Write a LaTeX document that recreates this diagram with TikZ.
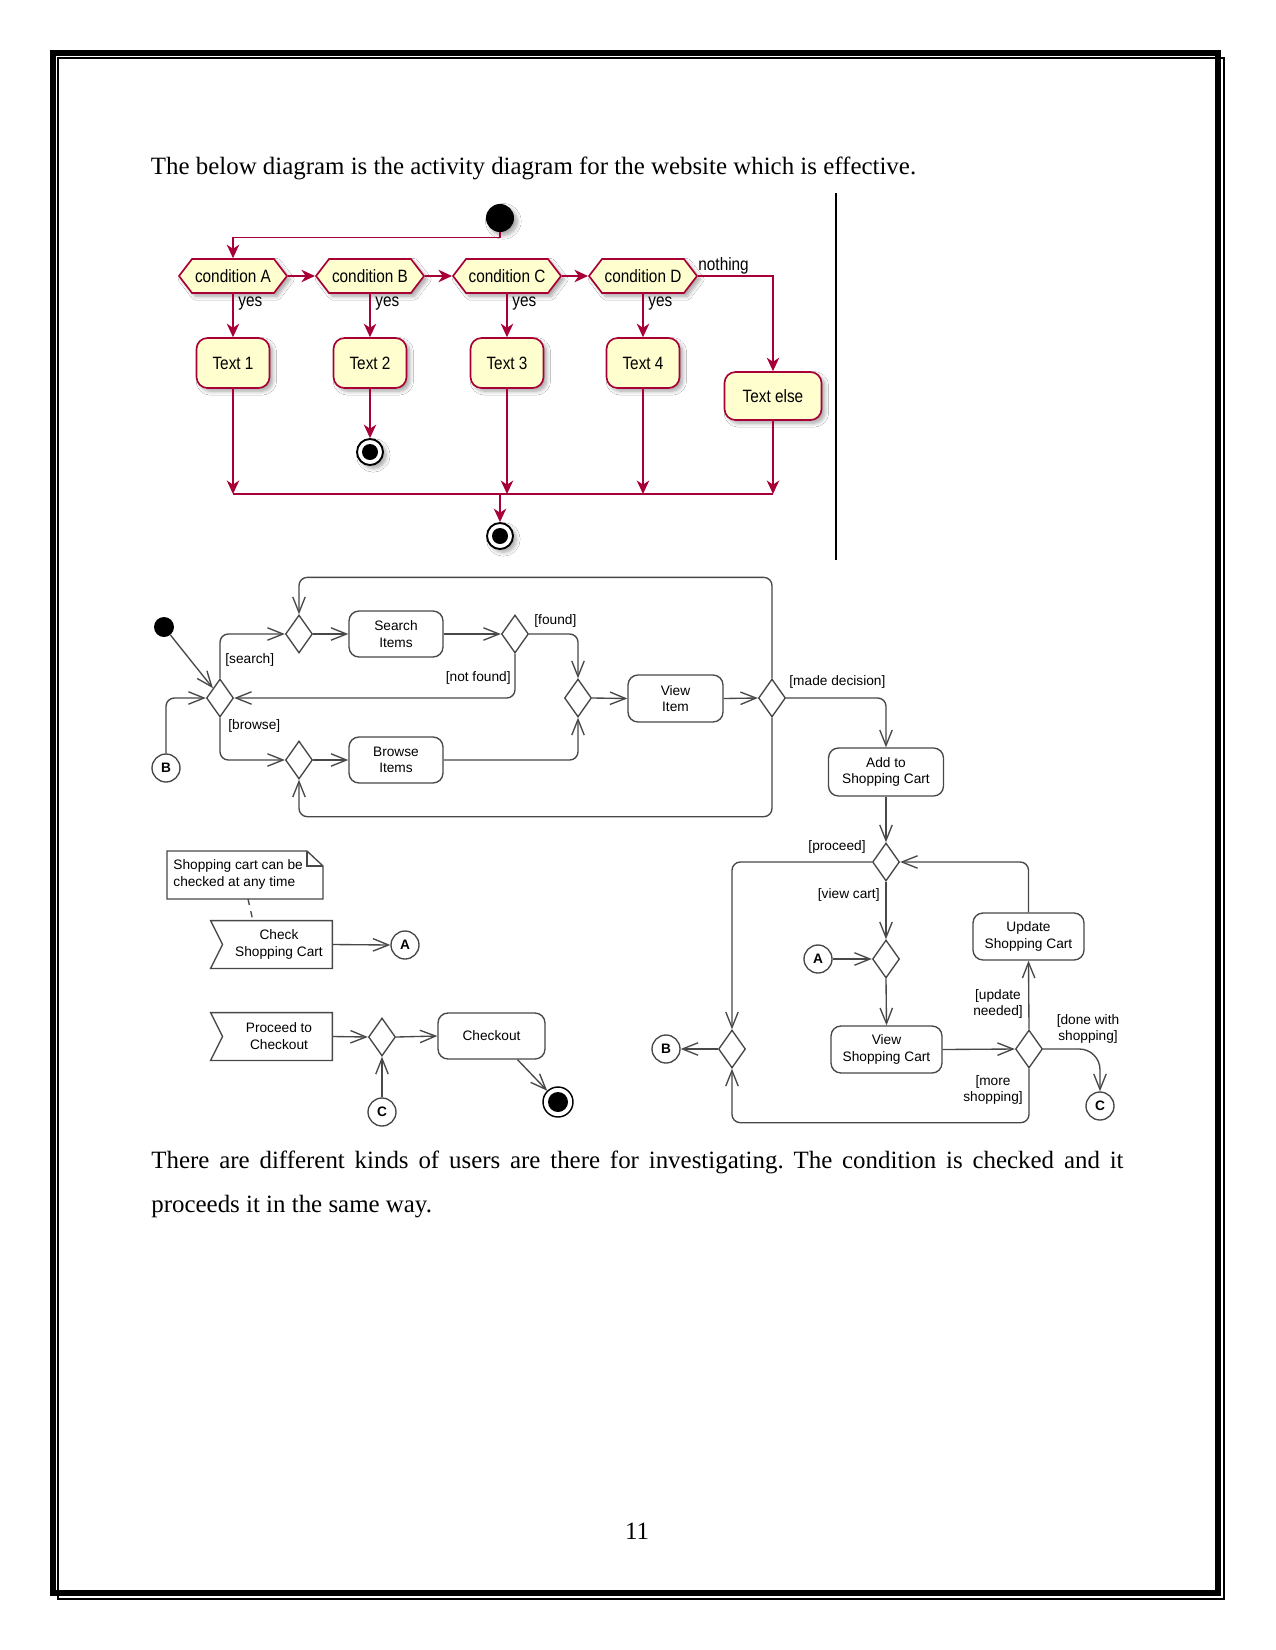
\documentclass[tikz,border=0pt]{standalone}
\usepackage{fontspec}
\setmainfont{Liberation Serif}
\setsansfont{Liberation Sans}
\newfontfamily\pufont[FakeStretch=0.86]{Liberation Sans}
\usetikzlibrary{arrows.meta,shapes.geometric,shapes.symbols,calc,shadows.blur}
\newdimen\upx \upx=0.48bp
\definecolor{pured}{HTML}{A80036}
\definecolor{puyel}{HTML}{FEFECE}
\definecolor{lc}{HTML}{484848}
\frenchspacing
\begin{document}
\begin{tikzpicture}[x=0.48bp, y=-0.48bp,
  pushadow/.style={blur shadow={shadow xshift=1.6pt, shadow yshift=-1.6pt, shadow opacity=35, shadow blur steps=6}},
  pufnt/.style={font=\pufont\fontsize{8.6}{10}\selectfont},
  pa/.style={draw=pured, line width=0.8pt, -{Stealth[length=6.5pt,width=6pt,inset=2pt]}},
  pubox/.style={rectangle, rounded corners=11*\upx, draw=pured, fill=puyel, line width=0.8pt, minimum width=73*\upx, minimum height=50*\upx, inner sep=0, pufnt, pushadow},
  puhex/.style={signal, signal to=east and west, signal pointer angle=105, draw=pured, fill=puyel, line width=0.8pt, minimum width=108*\upx, minimum height=34*\upx, inner sep=0, pufnt, pushadow},
  puyes/.style={anchor=west, inner sep=0, pufnt},
  puend/.style={circle, draw=black, line width=0.9pt, fill=white, minimum size=26*\upx, inner sep=0, pushadow},
  body/.style={inner sep=0, font=\fontsize{12}{14}\selectfont},
  lbf/.style={font=\sffamily\fontsize{6.6}{7.9}\selectfont},
  ar/.style={draw=lc, line width=0.65pt, -{Straight Barb[length=7.5pt,width=6pt]}, rounded corners=4pt},
  dec/.style={diamond, draw=lc, line width=0.65pt, fill=white, minimum width=27*\upx, minimum height=38*\upx, inner sep=0},
  act/.style={rectangle, rounded corners=10*\upx, draw=lc, line width=0.65pt, align=center, inner sep=0, lbf},
  conn/.style={circle, draw=lc, line width=0.65pt, minimum size=28*\upx, inner sep=0, font=\sffamily\bfseries\fontsize{6.6}{7.9}\selectfont},
  lab/.style={inner sep=0, lbf},
  evt/.style={rectangle, minimum width=121*\upx, minimum height=47*\upx, inner sep=0}
]
\useasboundingbox (0,0) rectangle (1275,1650);
\fill[white] (0,0) rectangle (1275,1650);
% page border
\draw[line width=6*\upx] (53,53) rectangle (1218,1593);
\draw[line width=1.8*\upx] (58,58) rectangle (1224,1599);

% body text
\node[body, anchor=base west] (t1) at (150.5,174) {The below diagram is the activity diagram for the website which is effective.};
\node[body, anchor=base west] (t2) at (151,1168) {\makebox[466.6bp][s]{There are different kinds of users are there for investigating. The condition is checked and it}};
\node[body, anchor=base west] (t3) at (151,1212) {proceeds it in the same way.};
\node[body, anchor=base] (pg) at (637,1539) {11};

% vertical rule
\draw[line width=2*\upx] (836,193) -- (836,560);

% ---------- top (PlantUML) diagram ----------
\node[circle, fill=black, minimum size=28*\upx, inner sep=0, pushadow] (st1) at (500,218) {};
\node[puhex] (cA) at (233,276) {condition A};
\node[puhex] (cB) at (370,276) {condition B};
\node[puhex] (cC) at (507,276) {condition C};
\node[puhex] (cD) at (643,276) {condition D};
\node[pubox] (x1) at (233,363) {Text 1};
\node[pubox] (x2) at (370,363) {Text 2};
\node[pubox] (x3) at (507,363) {Text 3};
\node[pubox] (x4) at (643,363) {Text 4};
\node[pubox, minimum width=97*\upx, minimum height=48*\upx] (xe) at (773,396) {Text else};
\node[puend] (e1) at (370,452) {};
\fill (e1.center) circle[radius=8*\upx];
\node[puend] (e2) at (500,536) {};
\fill (e2.center) circle[radius=8*\upx];

\draw[pa] (st1.south) -- ++(0,5) -| (cA.north);
\draw[pa] (cA.east) -- (cB.west);
\draw[pa] (cB.east) -- (cC.west);
\draw[pa] (cC.east) -- (cD.west);
\draw[pa] (cA.south) -- (x1.north);
\draw[pa] (cB.south) -- (x2.north);
\draw[pa] (cC.south) -- (x3.north);
\draw[pa] (cD.south) -- (x4.north);
\draw[pa] (cD.east) -| (xe.north);
\node[puyes] (yA) at ($(cA.south)+(5,10)$) {yes};
\node[puyes] (yB) at ($(cB.south)+(5,10)$) {yes};
\node[puyes] (yC) at ($(cC.south)+(5,10)$) {yes};
\node[puyes] (yD) at ($(cD.south)+(5,10)$) {yes};
\node[puyes] (noth) at (698,266) {nothing};
\draw[pa] (x2.south) -- (e1.north);
\coordinate (bA) at (233,494);
\coordinate (bC) at (507,494);
\coordinate (bD) at (643,494);
\coordinate (bE) at (773,494);
\coordinate (bM) at (500,494);
\draw[draw=pured, line width=0.8pt] (bA) -- (bE);
\draw[pa] (x1.south) -- (bA);
\draw[pa] (x3.south) -- (bC);
\draw[pa] (x4.south) -- (bD);
\draw[pa] (xe.south) -- (bE);
\draw[pa] (bM) -- (e2.north);

% ---------- bottom (UML) diagram ----------
\node[circle, fill=black, minimum size=20*\upx, inner sep=0] (st2) at (164,627) {};
\node[dec] (d1) at (220,698) {};
\node[conn] (Bc1) at (166,768) {B};
\node[dec] (d2) at (299,634) {};
\node[act, minimum width=94*\upx, minimum height=46*\upx] (search) at (396,634) {Search\\Items};
\node[dec] (d3) at (515,634) {};
\node[dec] (d4) at (578,698) {};
\node[dec] (d5) at (299,760) {};
\node[act, minimum width=94*\upx, minimum height=46*\upx] (browse) at (396,760) {Browse\\Items};
\node[act, minimum width=95*\upx, minimum height=47*\upx] (view) at (675.5,698.5) {View\\Item};
\node[dec] (d6) at (772,698) {};
\node[act, minimum width=115*\upx, minimum height=48*\upx] (add) at (886,772) {Add to\\Shopping Cart};
\node[dec] (d7) at (886,862) {};
\node[dec] (d8) at (732,1049) {};
\node[conn] (Bc2) at (666,1049) {B};
\node[dec] (d9) at (886,959) {};
\node[conn] (Ac2) at (818,959) {A};
\node[act, minimum width=111*\upx, minimum height=47*\upx] (vsc) at (886.5,1049.5) {View\\Shopping Cart};
\node[dec] (d10) at (1029,1049) {};
\node[act, minimum width=111*\upx, minimum height=47*\upx] (usc) at (1028.5,936.5) {Update\\Shopping Cart};
\node[conn] (Cc2) at (1100,1106) {C};

\draw[ar] (st2) -- (d1.north west);
\draw[ar] (Bc1.north) |- (d1.west);
\draw[ar] (d1.north) |- (d2.west);
\draw[ar] (d2.east) -- (search.west);
\draw[ar] (search.east) -- (d3.west);
\draw[ar] (d3.east) -| (d4.north);
\draw[ar] (d3.south) |- (d1.east);
\draw[ar] (d1.south) |- (d5.west);
\draw[ar] (d5.east) -- (browse.west);
\draw[ar] (browse.east) -| (d4.south);
\draw[ar] (d4.east) -- (view.west);
\draw[ar] (view.east) -- (d6.west);
\draw[ar] (d6.north) -- ++(0,-101) -| (d2.north);
\draw[ar] (d6.south) -- ++(0,99) -| (d5.south);
\draw[ar] (d6.east) -| (add.north);
\draw[ar] (add.south) -- (d7.north);
\draw[ar] (d7.west) -| (d8.north);
\draw[ar] (d7.south) -- (d9.north);
\draw[ar] (Ac2.east) -- (d9.west);
\draw[ar] (d9.south) -- (vsc.north);
\draw[ar] (vsc.east) -- (d10.west);
\draw[ar] (d10.north) -- (usc.south);
\draw[ar] (usc.north) |- (d7.east);
\draw[ar, rounded corners=10pt] (d10.east) -| (Cc2.north);
\draw[ar] (d10.south) -- ++(0,54) -| (d8.south);
\draw[ar] (d8.west) -- (Bc2.east);

\node[lab, anchor=west] (lsearch) at (225,660) {[search]};
\node[lab, anchor=west] (lbrowse) at (228,726) {[browse]};
\node[lab, anchor=west] (lfound) at (534,621) {[found]};
\node[lab, anchor=east] (lnf) at (511,678) {[not found]};
\node[lab, anchor=west] (lmd) at (789,682) {[made decision]};
\node[lab, anchor=east] (lpr) at (866,847) {[proceed]};
\node[lab, anchor=east] (lvc) at (880,895) {[view cart]};
\node[lab, align=center] (lun) at (998,1004) {[update\\needed]};
\node[lab, align=center] (ldw) at (1088,1029) {[done with\\shopping]};
\node[lab, align=center] (lms) at (993,1090) {[more\\shopping]};

% left part
\node[lab, align=left, anchor=west] (noteT) at (173,874.5) {Shopping cart can be\\checked at any time};
\draw[lc, line width=0.65pt] (167,851) -- (307,851) -- (323,866) -- (323,899) -- (167,899) -- cycle;
\draw[lc, line width=0.65pt] (307,851) -- (307,866) -- (323,866);
\coordinate (nb) at (248,899);
\coordinate (ct) at (253,921);
\draw[lc, line width=0.65pt, dashed] (nb) -- (ct);

\node[evt] (check) at (271.5,944.5) {};
\draw[lc, line width=0.65pt] (check.north west) -- (check.north east) -- (check.south east) -- (check.south west) -- ($(check.west)+(12,0)$) -- cycle;
\node[lab, align=center] (checkT) at (279,944.5) {Check\\Shopping Cart};
\node[conn] (Ac1) at (405,945) {A};
\draw[ar] (check.east) -- (Ac1.west);

\node[evt] (proc) at (271.5,1036.5) {};
\draw[lc, line width=0.65pt] (proc.north west) -- (proc.north east) -- (proc.south east) -- (proc.south west) -- ($(proc.west)+(12,0)$) -- cycle;
\node[lab, align=center] (procT) at (279,1036) {Proceed to\\Checkout};
\node[dec] (d11) at (382,1037) {};
\node[act, minimum width=107*\upx, minimum height=46*\upx] (checkout) at (491.5,1036) {Checkout};
\node[conn] (Cc1) at (382,1112) {C};
\node[circle, draw=black, line width=0.7pt, minimum size=30*\upx, inner sep=0] (end2) at (558,1102) {};
\fill (end2.center) circle[radius=10*\upx];
\draw[ar] (proc.east) -- (d11.west);
\draw[ar] (d11.east) -- (checkout.west);
\draw[ar] (Cc1.north) -- (d11.south);
\draw[ar] ([xshift=12.5bp]checkout.south) -- (end2);
\end{tikzpicture}
\end{document}
